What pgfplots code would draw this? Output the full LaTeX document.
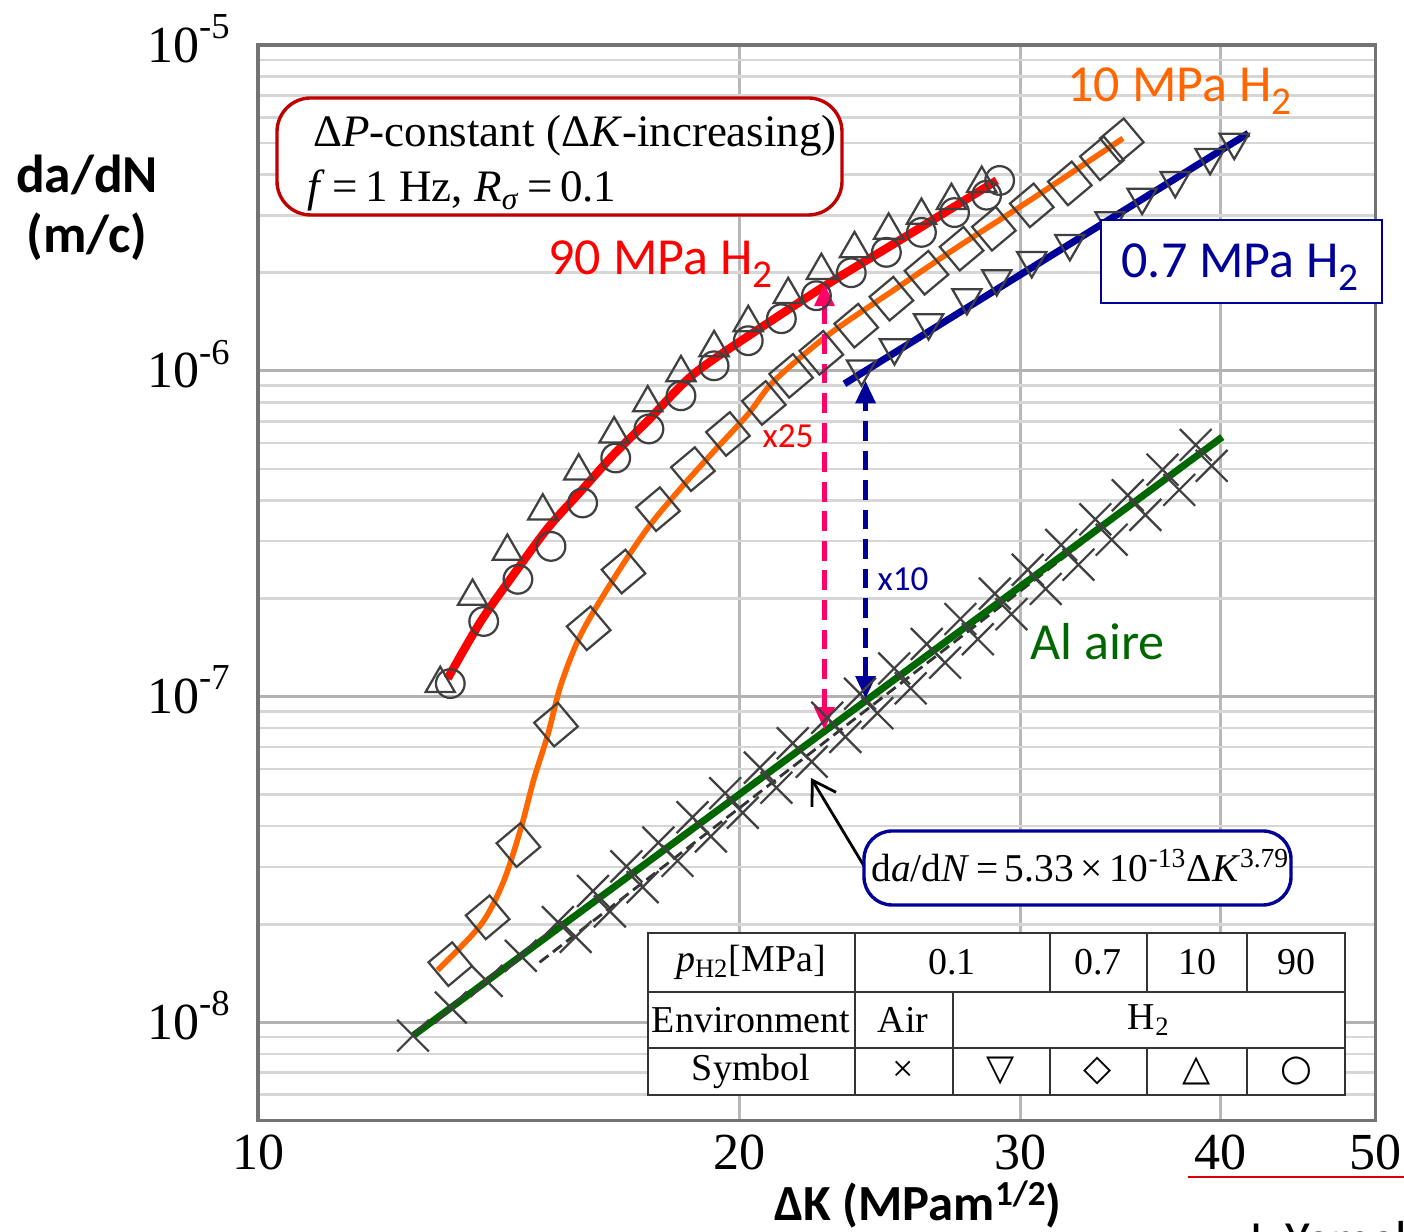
\documentclass[border=0pt]{standalone}
\usepackage{fontspec}
\setmainfont{Carlito}
\newfontfamily\timesfont{Liberation Serif}
\newfontfamily\symfont{DejaVu Sans}
\usepackage{pgfplots}
\pgfplotsset{compat=1.18}
\usetikzlibrary{arrows.meta}

\definecolor{redline}{HTML}{FF0000}
\definecolor{orangeline}{HTML}{FF6600}
\definecolor{navyline}{HTML}{000099}
\definecolor{greenline}{HTML}{006600}
\definecolor{pinkarrow}{HTML}{FF0066}
\definecolor{boxred}{HTML}{C00000}

% y tick label: 10 with raised exponent
\newcommand\ylab[1]{\timesfont\fontsize{18.5}{20}\selectfont 10\raisebox{8.5pt}{\fontsize{13}{13}\selectfont -#1}}
\newcommand\subtwo{\raisebox{-4.5pt}{\fontsize{14}{14}\selectfont 2}}

\begin{document}
\begin{tikzpicture}
\begin{axis}[
    scale only axis,
    width=13.9625cm,
    height=13.4375cm,
    xmode=log, ymode=log,
    xmin=10, xmax=50,
    ymin=5e-9, ymax=1e-5,
    xtick={10,20,30,40,50},
    xticklabels={10,20,30,40,50},
    ytick={1e-8,1e-7,1e-6,1e-5},
    yticklabels={\ylab{8},\ylab{7},\ylab{6},\ylab{5}},
    minor ytick={6e-9,7e-9,8e-9,9e-9,
        2e-8,3e-8,4e-8,5e-8,6e-8,7e-8,8e-8,9e-8,
        2e-7,3e-7,4e-7,5e-7,6e-7,7e-7,8e-7,9e-7,
        2e-6,3e-6,4e-6,5e-6,6e-6,7e-6,8e-6,9e-6},
    major tick length=0pt,
    minor tick length=0pt,
    xmajorgrids=true,
    ymajorgrids=true,
    yminorgrids=true,
    major x grid style={draw=black!28, line width=1.2pt},
    major y grid style={draw=black!30, line width=1.1pt},
    minor y grid style={draw=black!16, line width=0.9pt},
    axis line style={draw=black!55, line width=1.2pt},
    xticklabel style={font=\timesfont\fontsize{18.5}{20}\selectfont, inner sep=0pt, yshift=-5pt},
    yticklabel style={anchor=base east, inner sep=0pt, xshift=-9.9pt, yshift=-6.1pt},
]
% original power-law fit (dashed, under the crosses)
\addplot[black!80, line width=1pt, dash pattern=on 4pt off 2pt] coordinates {
    (15,1.528e-8) (40,6.29e-7)
};
% Air, x
\addplot[only marks, mark=x, mark size=8pt, mark options={black!75, line width=0.8pt}] coordinates {
    (12.5,9.10e-9) (13.2,1.11e-8) (13.9,1.34e-8) (14.6,1.60e-8) (15.4,2.03e-8)
    (16.2,2.53e-8) (17.0,3.01e-8) (17.8,3.56e-8) (18.7,4.26e-8) (19.6,5.05e-8)
    (20.6,6.05e-8) (21.6,7.19e-8) (22.7,8.61e-8) (23.8,1.02e-7) (25.0,1.22e-7)
    (26.2,1.45e-7) (27.5,1.73e-7) (28.9,2.07e-7) (30.3,2.45e-7) (31.8,2.92e-7)
    (33.4,3.50e-7) (35.0,4.15e-7) (36.8,4.97e-7) (38.6,5.92e-7)
};
\addplot[only marks, mark=x, mark size=8pt, mark options={black!75, line width=0.8pt}] coordinates {
    (15.8,1.83e-8) (16.6,2.19e-8) (17.4,2.60e-8) (18.3,3.13e-8) (19.2,3.72e-8)
    (20.1,4.40e-8) (21.1,5.25e-8) (22.2,6.31e-8) (23.3,7.52e-8) (24.4,8.89e-8)
    (25.6,1.06e-7) (26.9,1.27e-7) (28.2,1.50e-7) (29.6,1.79e-7) (31.1,2.14e-7)
    (32.6,2.54e-7) (34.2,3.03e-7) (35.9,3.61e-7) (37.7,4.31e-7) (39.5,5.11e-7)
};
% triangles down
\addplot[only marks, mark=triangle, mark size=6pt, mark options={black!75, line width=0.8pt, rotate=180}] coordinates {
    (23.85,1.014e-6) (25.01,1.177e-6) (26.27,1.405e-6) (27.76,1.678e-6)
    (28.98,1.919e-6) (30.48,2.18e-6) (32.20,2.46e-6) (34.12,2.89e-6)
    (35.73,3.41e-6) (37.48,3.84e-6) (39.41,4.52e-6) (40.80,5.03e-6)
};
% diamonds
\addplot[only marks, mark=square, mark size=5.5pt, mark options={black!75, line width=0.8pt, rotate=40}] coordinates {
    (13.19,1.508e-8) (13.92,2.10e-8) (14.55,3.50e-8) (15.36,8.20e-8) (16.10,1.62e-7)
    (16.93,2.42e-7) (17.79,3.76e-7) (18.71,4.99e-7) (19.68,6.40e-7) (20.72,7.97e-7)
    (21.55,9.65e-7) (22.51,1.136e-6) (23.67,1.376e-6) (24.90,1.665e-6) (26.19,2.00e-6)
    (27.55,2.37e-6) (28.86,2.73e-6) (30.48,3.22e-6) (32.20,3.76e-6) (33.72,4.49e-6)
    (34.70,5.10e-6)
};
% triangles up
\addplot[only marks, mark=triangle, mark size=6pt, mark options={black!75, line width=0.8pt}] coordinates {
    (13.00,1.096e-7) (13.62,2.03e-7) (14.32,2.79e-7) (15.07,3.71e-7) (15.87,4.92e-7)
    (16.70,6.40e-7) (17.53,7.97e-7) (18.39,9.86e-7) (19.29,1.177e-6) (20.26,1.405e-6)
    (21.46,1.713e-6) (22.51,2.03e-6) (23.61,2.37e-6) (24.80,2.70e-6) (26.00,3.00e-6)
    (27.15,3.33e-6) (28.36,3.76e-6)
};
% circles
\addplot[only marks, mark=o, mark size=5.1pt, mark options={black!75, line width=0.8pt}] coordinates {
    (13.19,1.096e-7) (13.84,1.70e-7) (14.54,2.29e-7) (15.25,2.89e-7) (15.96,3.93e-7)
    (16.74,5.40e-7) (17.56,6.63e-7) (18.39,8.38e-7) (19.29,1.036e-6) (20.26,1.237e-6)
    (21.25,1.445e-6) (22.35,1.70e-6) (23.50,2.00e-6) (24.72,2.31e-6) (26.00,2.66e-6)
    (27.27,3.06e-6) (28.56,3.46e-6) (29.10,3.84e-6)
};
% coloured trend lines
\addplot[greenline, line width=2.5pt] coordinates {(12.51,9.12e-9) (40.1,6.26e-7)};
\addplot[orangeline, line width=2pt, smooth] coordinates {
    (12.95,1.445e-8) (13.78,1.99e-8) (14.24,2.70e-8) (14.60,3.93e-8) (14.88,5.59e-8)
    (15.18,7.64e-8) (15.47,1.088e-7) (15.92,1.552e-7) (16.70,2.31e-7) (17.53,3.29e-7)
    (18.39,4.37e-7) (19.29,5.67e-7) (20.26,7.37e-7) (21.03,9.31e-7) (22.74,1.290e-6)
    (25.01,1.775e-6) (27.43,2.41e-6) (30.52,3.38e-6) (34.76,5.17e-6)
};
\addplot[redline, line width=3pt, smooth] coordinates {
    (13.14,1.136e-7) (13.78,1.70e-7) (14.45,2.37e-7) (15.18,3.29e-7) (15.92,4.27e-7)
    (16.70,5.55e-7) (17.53,7.02e-7) (18.74,9.79e-7) (20.63,1.356e-6) (22.74,1.852e-6)
    (25.01,2.46e-6) (26.89,3.06e-6) (28.98,3.84e-6)
};
\addplot[navyline, line width=2.5pt] coordinates {(23.27,9.12e-7) (41.64,5.36e-6)};
% factor arrows
\addplot[pinkarrow, line width=1.5pt, dash pattern=on 7pt off 3.5pt,
    {Triangle[length=8pt,width=7pt]}-{Triangle[length=8pt,width=7pt]}] coordinates {
    (22.61,7.91e-8) (22.61,1.852e-6)
};
\addplot[navyline, line width=1.5pt, dash pattern=on 7pt off 3.5pt,
    {Triangle[length=8pt,width=7pt]}-{Triangle[length=8pt,width=7pt]}] coordinates {
    (23.99,9.86e-8) (23.99,9.31e-7)
};
\end{axis}

% annotations in image pixel coordinates (origin top left)
\begin{scope}[x=0.0125cm, y=-0.0125cm, shift={(-3.225cm,14cm)}]
% top-left condition box
\draw[boxred, line width=1.2pt, rounded corners=12pt, fill=white] (277,98) rectangle (842,215);
\node[anchor=base west, inner sep=0pt, font=\timesfont\fontsize{16}{16}\selectfont]
    at (313,147) {Δ\textit{P}-constant (Δ\textit{K}-increasing)};
\node[anchor=base west, inner sep=0pt, font=\timesfont\fontsize{16}{16}\selectfont]
    at (307,202) {\textit{f}\,=\,1 Hz, \textit{R}\textsubscript{\textit{σ}}\,=\,0.1};

% series labels
\node[anchor=base west, inner sep=0pt, text=redline, font=\fontsize{18.5}{20}\selectfont]
    at (548,275) {90 MPa H\subtwo};
\node[anchor=base west, inner sep=0pt, text=orangeline, font=\fontsize{18.5}{20}\selectfont]
    at (1067,102) {10 MPa H\subtwo};
\draw[navyline, line width=1pt, fill=white] (1101,220) rectangle (1382,303);
\node[anchor=base west, inner sep=0pt, text=navyline, font=\fontsize{18.5}{20}\selectfont]
    at (1121,278) {0.7 MPa H\subtwo};
\node[anchor=base west, inner sep=0pt, text=greenline, font=\fontsize{18.5}{20}\selectfont]
    at (1030,660) {Al aire};
\node[anchor=base west, inner sep=0pt, text=redline, font=\fontsize{12.5}{14}\selectfont]
    at (762,448) {x25};
\node[anchor=base west, inner sep=0pt, text=navyline, font=\fontsize{12.5}{14}\selectfont]
    at (877,591) {x10};

% fit equation box and pointer
\draw[black, line width=1pt, -{Straight Barb[length=8pt,width=10pt]}] (864,866) -- (811,778);
\draw[navyline, line width=1.2pt, rounded corners=10pt, fill=white] (864,831) rectangle (1291,905);
\node[anchor=base west, inner sep=0pt, font=\timesfont\fontsize{14}{14}\selectfont]
    at (871,882) {d\textit{a}/d\textit{N}\,=\,5.33\,×\,10\textsuperscript{-13}Δ\textit{K}\textsuperscript{3.79}};

% symbol table
\fill[white] (648,933) rectangle (1345,1095);
\begin{scope}[draw=black!80, line width=1pt]
\draw (648,933) rectangle (1345,1095);
\draw (648,992) -- (1345,992);
\draw (648,1048) -- (1345,1048);
\draw (855,933) -- (855,1095);
\draw (953,992) -- (953,1095);
\foreach \cx in {1050,1147,1247} {
    \draw (\cx,933) -- (\cx,992);
    \draw (\cx,1048) -- (\cx,1095);
}
\end{scope}
\begin{scope}[every node/.style={inner sep=0pt, font=\timesfont\fontsize{13.5}{14}\selectfont}]
\node at (751,962) {\textit{p}\textsubscript{H2}[MPa]};
\node at (952,962) {0.1};
\node at (1098,962) {0.7};
\node at (1197,962) {10};
\node at (1296,962) {90};
\node at (751,1020) {Environment};
\node at (903,1020) {Air};
\node at (1149,1020) {H\textsubscript{2}};
\node at (751,1071) {Symbol};
\node at (903,1071) {×};
\node[font=\symfont\fontsize{13}{14}\selectfont] at (1001,1071) {▽};
\node[font=\symfont\fontsize{13}{14}\selectfont] at (1098,1071) {◇};
\node[font=\symfont\fontsize{13}{14}\selectfont] at (1197,1071) {△};
\node[font=\symfont\fontsize{13}{14}\selectfont] at (1296,1071) {○};
\end{scope}

% axis titles
\node[anchor=base, inner sep=0pt, font=\bfseries\fontsize{19}{20}\selectfont] at (87,193) {da/dN};
\node[anchor=base, inner sep=0pt, font=\bfseries\fontsize{19}{20}\selectfont] at (87,253) {(m/c)};
\node[anchor=base, inner sep=0pt, font=\bfseries\fontsize{18}{20}\selectfont] at (918,1221)
    {ΔK (MPam\raisebox{5.5pt}{\fontsize{12.5}{13}\selectfont 1/2})};

% source line at bottom right
\draw[red!85!black, line width=1pt] (1188,1177) -- (1410,1177);
\node[anchor=base west, inner sep=0pt, font=\fontsize{18}{20}\selectfont] at (1245,1257) {J. Yamabe et al.};

\pgfresetboundingbox
\useasboundingbox (0,0) rectangle (1404,1232);
\end{scope}
\end{tikzpicture}
\end{document}
